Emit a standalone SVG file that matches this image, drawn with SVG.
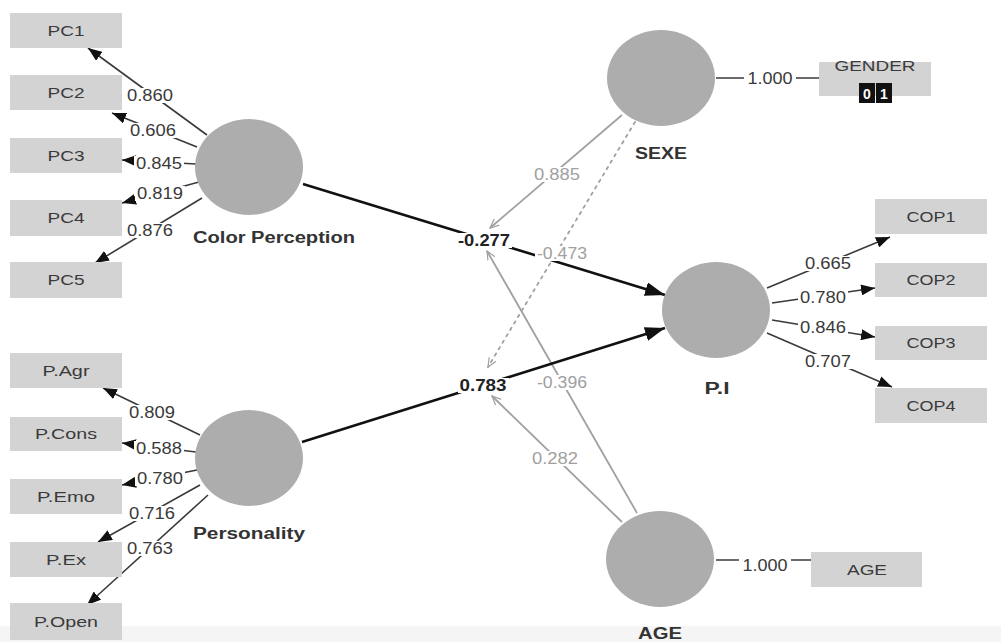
<svg xmlns="http://www.w3.org/2000/svg" width="1001" height="642" viewBox="0 0 1001 642">
<defs>
<style>
.box{fill:#d3d3d3}
.lv{fill:#adadad}
.bg{fill:#fff}
text{font-family:"Liberation Sans",Arial,sans-serif}
.t{font-size:15px;fill:#3a3a3a;text-anchor:middle}
.n{font-size:16px;fill:#3a3a3a;text-anchor:middle}
.g{fill:#a0a0a0}
.b{font-weight:bold;fill:#222}
.nm{font-size:16px;font-weight:bold;fill:#333;text-anchor:middle}
.ld{stroke:#3a3a3a;stroke-width:1.6;fill:none}
.mp{stroke:#111;stroke-width:2.6;fill:none}
.md{stroke:#a0a0a0;stroke-width:1.8;fill:none}
</style>
<marker id="ah" markerUnits="userSpaceOnUse" markerWidth="14" markerHeight="11" refX="14" refY="5.5" orient="auto"><path d="M0,0 L14,5.5 L0,11 z" fill="#111"/></marker>
<marker id="ahb" markerUnits="userSpaceOnUse" markerWidth="20" markerHeight="14" refX="20" refY="7" orient="auto"><path d="M0,0 L20,7 L0,14 z" fill="#111"/></marker>
<marker id="ao" markerUnits="userSpaceOnUse" markerWidth="10" markerHeight="10" refX="9" refY="5" orient="auto"><path d="M0,1 L9,5 L0,9" fill="none" stroke="#a0a0a0" stroke-width="1.2"/></marker>
</defs>
<rect x="0" y="0" width="1001" height="642" fill="#fff"/>
<rect x="0" y="626" width="1001" height="16" fill="#f5f5f5"/>

<g id="connectors">
<line class="ld" x1="207" y1="135" x2="88" y2="48" marker-end="url(#ah)"/>
<line class="ld" x1="197" y1="147" x2="112" y2="113" marker-end="url(#ah)"/>
<line class="ld" x1="196" y1="164" x2="122" y2="160" marker-end="url(#ah)"/>
<line class="ld" x1="199" y1="182" x2="122" y2="203" marker-end="url(#ah)"/>
<line class="ld" x1="202" y1="198" x2="95" y2="263" marker-end="url(#ah)"/>
<line class="ld" x1="200" y1="435" x2="103" y2="388" marker-end="url(#ah)"/>
<line class="ld" x1="196" y1="452" x2="122" y2="443" marker-end="url(#ah)"/>
<line class="ld" x1="197" y1="470" x2="122" y2="485" marker-end="url(#ah)"/>
<line class="ld" x1="200" y1="485" x2="98" y2="542" marker-end="url(#ah)"/>
<line class="ld" x1="208" y1="495" x2="87" y2="605" marker-end="url(#ah)"/>
<line class="ld" x1="767" y1="288" x2="890" y2="237" marker-end="url(#ah)"/>
<line class="ld" x1="772" y1="303" x2="875" y2="288" marker-end="url(#ah)"/>
<line class="ld" x1="772" y1="320" x2="875" y2="337" marker-end="url(#ah)"/>
<line class="ld" x1="767" y1="333" x2="892" y2="387" marker-end="url(#ah)"/>
<line class="ld" x1="716" y1="78" x2="819" y2="78"/>
<line class="ld" x1="716" y1="560" x2="811" y2="560"/>
<line class="md" x1="622" y1="115" x2="490" y2="228" marker-end="url(#ao)"/>
<line class="md" x1="635" y1="122" x2="488" y2="367" stroke-dasharray="2.5,5" stroke-linecap="round" marker-end="url(#ao)"/>
<line class="md" x1="637" y1="513" x2="487" y2="251" marker-end="url(#ao)"/>
<line class="md" x1="622" y1="522" x2="492" y2="396" marker-end="url(#ao)"/>
<line class="mp" x1="303" y1="184" x2="665" y2="295" marker-end="url(#ahb)"/>
<line class="mp" x1="302" y1="442" x2="665" y2="328" marker-end="url(#ahb)"/>

<rect class="bg" x="125" y="88" width="50" height="15"/><text class="n" x="150" y="101" textLength="46" lengthAdjust="spacingAndGlyphs">0.860</text>
<rect class="bg" x="128" y="123" width="50" height="15"/><text class="n" x="153" y="136" textLength="46" lengthAdjust="spacingAndGlyphs">0.606</text>
<rect class="bg" x="134" y="156" width="50" height="15"/><text class="n" x="159" y="169" textLength="46" lengthAdjust="spacingAndGlyphs">0.845</text>
<rect class="bg" x="135" y="186" width="50" height="15"/><text class="n" x="160" y="199" textLength="46" lengthAdjust="spacingAndGlyphs">0.819</text>
<rect class="bg" x="125" y="223" width="50" height="15"/><text class="n" x="150" y="236" textLength="46" lengthAdjust="spacingAndGlyphs">0.876</text>
<rect class="bg" x="127" y="405" width="50" height="15"/><text class="n" x="152" y="418" textLength="46" lengthAdjust="spacingAndGlyphs">0.809</text>
<rect class="bg" x="134" y="441" width="50" height="15"/><text class="n" x="159" y="454" textLength="46" lengthAdjust="spacingAndGlyphs">0.588</text>
<rect class="bg" x="135" y="471" width="50" height="15"/><text class="n" x="160" y="484" textLength="46" lengthAdjust="spacingAndGlyphs">0.780</text>
<rect class="bg" x="127" y="506" width="50" height="15"/><text class="n" x="152" y="519" textLength="46" lengthAdjust="spacingAndGlyphs">0.716</text>
<rect class="bg" x="125" y="541" width="50" height="15"/><text class="n" x="150" y="554" textLength="46" lengthAdjust="spacingAndGlyphs">0.763</text>
<rect class="bg" x="803" y="256" width="50" height="15"/><text class="n" x="828" y="269" textLength="46" lengthAdjust="spacingAndGlyphs">0.665</text>
<rect class="bg" x="798" y="290" width="50" height="15"/><text class="n" x="823" y="303" textLength="46" lengthAdjust="spacingAndGlyphs">0.780</text>
<rect class="bg" x="798" y="320" width="50" height="15"/><text class="n" x="823" y="333" textLength="46" lengthAdjust="spacingAndGlyphs">0.846</text>
<rect class="bg" x="803" y="354" width="50" height="15"/><text class="n" x="828" y="367" textLength="46" lengthAdjust="spacingAndGlyphs">0.707</text>
<rect class="bg" x="744" y="71" width="52" height="15"/><text class="n" x="770" y="84" textLength="45" lengthAdjust="spacingAndGlyphs">1.000</text>
<rect class="bg" x="739" y="558" width="52" height="15"/><text class="n" x="765" y="571" textLength="45" lengthAdjust="spacingAndGlyphs">1.000</text>
<rect class="bg" x="532" y="167" width="50" height="15"/><text class="n g" x="557" y="180" textLength="46" lengthAdjust="spacingAndGlyphs">0.885</text>
<rect class="bg" x="535" y="246" width="54" height="15"/><text class="n g" x="562" y="259" textLength="50" lengthAdjust="spacingAndGlyphs">-0.473</text>
<rect class="bg" x="535" y="375" width="54" height="15"/><text class="n g" x="562" y="388" textLength="50" lengthAdjust="spacingAndGlyphs">-0.396</text>
<rect class="bg" x="530" y="451" width="50" height="15"/><text class="n g" x="555" y="464" textLength="46" lengthAdjust="spacingAndGlyphs">0.282</text>
<rect class="bg" x="456" y="233" width="56" height="15"/><text class="n b" x="484" y="246" textLength="52" lengthAdjust="spacingAndGlyphs">-0.277</text>
<rect class="bg" x="458" y="378" width="51" height="15"/><text class="n b" x="483" y="391" textLength="47" lengthAdjust="spacingAndGlyphs">0.783</text>
</g>

<g id="PC1"><rect class="box" x="10" y="13" width="112" height="35"/><text class="t" x="66" y="36" textLength="37" lengthAdjust="spacingAndGlyphs">PC1</text></g>
<g id="PC2"><rect class="box" x="10" y="75" width="112" height="35"/><text class="t" x="66" y="98" textLength="37" lengthAdjust="spacingAndGlyphs">PC2</text></g>
<g id="PC3"><rect class="box" x="10" y="138" width="112" height="35"/><text class="t" x="66" y="161" textLength="37" lengthAdjust="spacingAndGlyphs">PC3</text></g>
<g id="PC4"><rect class="box" x="10" y="200" width="112" height="36"/><text class="t" x="66" y="223" textLength="37" lengthAdjust="spacingAndGlyphs">PC4</text></g>
<g id="PC5"><rect class="box" x="10" y="262" width="112" height="36"/><text class="t" x="66" y="285" textLength="37" lengthAdjust="spacingAndGlyphs">PC5</text></g>

<g id="P.Agr"><rect class="box" x="10" y="353" width="112" height="35"/><text class="t" x="66" y="376" textLength="47" lengthAdjust="spacingAndGlyphs">P.Agr</text></g>
<g id="P.Cons"><rect class="box" x="10" y="417" width="112" height="34"/><text class="t" x="66" y="439" textLength="62" lengthAdjust="spacingAndGlyphs">P.Cons</text></g>
<g id="P.Emo"><rect class="box" x="10" y="479" width="112" height="35"/><text class="t" x="66" y="502" textLength="58" lengthAdjust="spacingAndGlyphs">P.Emo</text></g>
<g id="P.Ex"><rect class="box" x="10" y="542" width="112" height="35"/><text class="t" x="66" y="565" textLength="40" lengthAdjust="spacingAndGlyphs">P.Ex</text></g>
<g id="P.Open"><rect class="box" x="10" y="603" width="112" height="37"/><text class="t" x="66" y="627" textLength="64" lengthAdjust="spacingAndGlyphs">P.Open</text></g>

<g id="COP1"><rect class="box" x="875" y="199" width="112" height="35"/><text class="t" x="931" y="222" textLength="49" lengthAdjust="spacingAndGlyphs">COP1</text></g>
<g id="COP2"><rect class="box" x="875" y="263" width="112" height="34"/><text class="t" x="931" y="285" textLength="49" lengthAdjust="spacingAndGlyphs">COP2</text></g>
<g id="COP3"><rect class="box" x="875" y="326" width="112" height="34"/><text class="t" x="931" y="348" textLength="49" lengthAdjust="spacingAndGlyphs">COP3</text></g>
<g id="COP4"><rect class="box" x="875" y="388" width="112" height="35"/><text class="t" x="931" y="411" textLength="49" lengthAdjust="spacingAndGlyphs">COP4</text></g>

<g id="GENDER"><rect class="box" x="819" y="62" width="112" height="34"/><text class="t" x="875" y="71" textLength="81" lengthAdjust="spacingAndGlyphs">GENDER</text>
<rect x="859" y="83" width="16" height="20" fill="#111"/><rect x="876" y="83" width="16" height="20" fill="#111"/>
<text x="867" y="99" font-size="14" fill="#fff" text-anchor="middle" font-weight="bold">0</text><text x="884" y="99" font-size="14" fill="#fff" text-anchor="middle" font-weight="bold">1</text></g>
<g id="AGE-ind"><rect class="box" x="811" y="552" width="111" height="35"/><text class="t" x="867" y="575" textLength="40" lengthAdjust="spacingAndGlyphs">AGE</text></g>

<g id="ColorPerception"><ellipse class="lv" cx="249" cy="167" rx="54" ry="48"/><text class="nm" x="274" y="243" textLength="162" lengthAdjust="spacingAndGlyphs">Color Perception</text></g>
<g id="Personality"><ellipse class="lv" cx="249" cy="458" rx="54" ry="48"/><text class="nm" x="249" y="539" textLength="112" lengthAdjust="spacingAndGlyphs">Personality</text></g>
<g id="SEXE"><ellipse class="lv" cx="661" cy="78" rx="54" ry="48"/><text class="nm" x="661" y="159" textLength="52" lengthAdjust="spacingAndGlyphs">SEXE</text></g>
<g id="PI"><ellipse class="lv" cx="716" cy="310" rx="54" ry="48"/><text class="nm" x="717" y="394" textLength="25" lengthAdjust="spacingAndGlyphs">P.I</text></g>
<g id="AGE"><ellipse class="lv" cx="660" cy="559" rx="54" ry="48"/><text class="nm" x="660" y="639" textLength="44" lengthAdjust="spacingAndGlyphs">AGE</text></g>
</svg>
